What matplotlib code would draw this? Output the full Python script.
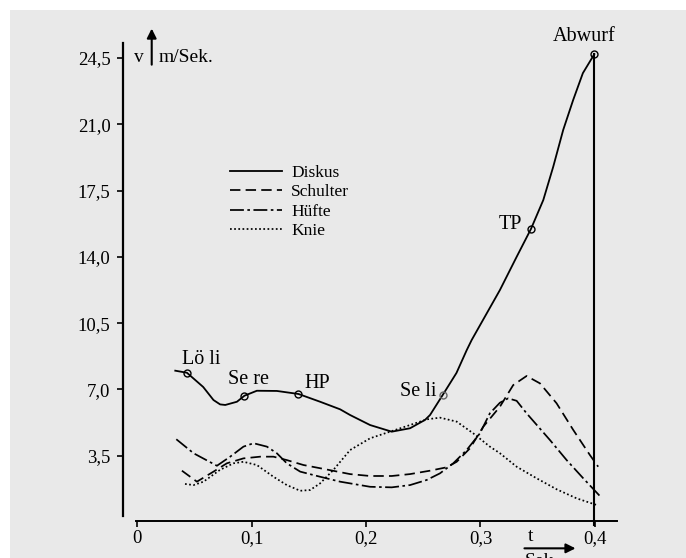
import numpy as np
import matplotlib
matplotlib.use('Agg')
import matplotlib.pyplot as plt
from matplotlib.patches import Rectangle

# Zeit in Sek., Geschwindigkeit in m/Sek.
diskus_t = [0.0332, 0.0434, 0.0576, 0.0666, 0.0724, 0.0769, 0.0871, 0.0937, 0.1045, 0.1220,
            0.1409, 0.1598, 0.1773, 0.1860, 0.2035, 0.2224, 0.2384, 0.2515, 0.2559, 0.2670,
            0.2790, 0.2880, 0.2923, 0.3170, 0.3316, 0.3441, 0.3549, 0.3636, 0.3723, 0.3810,
            0.3895, 0.3995]
diskus_v = [7.99, 7.88, 7.13, 6.44, 6.21, 6.18, 6.35, 6.67, 6.93, 6.92,
            6.76, 6.35, 5.95, 5.65, 5.12, 4.77, 4.95, 5.39, 5.65, 6.71,
            7.87, 9.08, 9.61, 12.25, 14.00, 15.47, 17.00, 18.76, 20.70, 22.28,
            23.70, 24.70]

schulter_t = [0.0390, 0.0521, 0.0666, 0.0783, 0.0928, 0.1074, 0.1190, 0.1307, 0.1452, 0.1598,
              0.1860, 0.2035, 0.2224, 0.2384, 0.2559, 0.2705, 0.2792, 0.2908, 0.3024, 0.3170,
              0.3286, 0.3403, 0.3520, 0.3665, 0.3811, 0.3956, 0.4029]
schulter_v = [2.71, 2.13, 2.66, 3.10, 3.36, 3.45, 3.45, 3.27, 3.01, 2.84,
              2.53, 2.43, 2.43, 2.53, 2.71, 2.89, 3.18, 3.89, 5.03, 6.09,
              7.23, 7.71, 7.32, 6.27, 4.86, 3.54, 2.92]

huefte_t = [0.0341, 0.0492, 0.0696, 0.0812, 0.0928, 0.1016, 0.1133, 0.1220, 0.1307, 0.1424,
            0.1598, 0.1773, 0.2035, 0.2224, 0.2384, 0.2530, 0.2646, 0.2762, 0.2879, 0.2995,
            0.3082, 0.3170, 0.3242, 0.3316, 0.3403, 0.3607, 0.3753, 0.3898, 0.4044]
huefte_v = [4.37, 3.63, 2.97, 3.45, 3.98, 4.16, 3.98, 3.63, 3.10, 2.66,
            2.39, 2.13, 1.86, 1.83, 1.95, 2.22, 2.57, 3.10, 3.80, 4.68,
            5.74, 6.30, 6.53, 6.40, 5.74, 4.33, 3.27, 2.31, 1.37]

knie_t = [0.0417, 0.0492, 0.0579, 0.0722, 0.0841, 0.0928, 0.1045, 0.1190, 0.1307, 0.1424,
          0.1511, 0.1598, 0.1714, 0.1860, 0.2035, 0.2224, 0.2384, 0.2530, 0.2646, 0.2792,
          0.2937, 0.3082, 0.3170, 0.3316, 0.3490, 0.3665, 0.3840, 0.4015]
knie_v = [2.01, 1.95, 2.13, 2.75, 3.10, 3.18, 3.01, 2.39, 1.95, 1.65,
          1.69, 2.04, 2.75, 3.80, 4.42, 4.80, 5.12, 5.42, 5.51, 5.30,
          4.68, 3.98, 3.63, 2.92, 2.31, 1.73, 1.25, 0.90]

punkt_namen = ['Lö li', 'Se re', 'HP', 'Se li', 'TP', 'Abwurf']
punkt_t = [0.0434, 0.0937, 0.1409, 0.2670, 0.3441, 0.3995]
punkt_v = [7.88, 6.67, 6.76, 6.71, 15.47, 24.70]

xticks = [0, 0.1, 0.2, 0.3, 0.4]
xtick_labels = ['0', '0,1', '0,2', '0,3', '0,4']
yticks = [3.5, 7.0, 10.5, 14.0, 17.5, 21.0, 24.5]
ytick_labels = ['3,5', '7,0', '10,5', '14,0', '17,5', '21,0', '24,5']

plt.rcParams['font.family'] = ['Liberation Serif', 'DejaVu Serif']

fig = plt.figure(figsize=(6.86, 5.58), dpi=100, facecolor='white')
fig.patches.append(Rectangle((10 / 686, 0), 1, 548 / 558, transform=fig.transFigure,
                             facecolor='#e9e9e9', edgecolor='none', zorder=-10))
ax = fig.add_axes([123 / 686, 37.5 / 558, 506.2 / 686, 500.4 / 558])
ax.set_facecolor('none')
ax.set_xlim(-0.0125, 0.43)
ax.set_ylim(0.08, 26.5)

ax.plot(diskus_t, diskus_v, color='black', lw=1.3, ls='-', label='Diskus')
ax.plot(schulter_t, schulter_v, color='black', lw=1.25, ls=(0, (6, 3)), label='Schulter')
ax.plot(huefte_t, huefte_v, color='black', lw=1.25, ls=(0, (8, 2, 1.5, 2)), label='Hüfte')
ax.plot(knie_t, knie_v, color='black', lw=1.25, ls=(0, (1, 1.4)), label='Knie')

# Abwurf-Linie
ax.plot([punkt_t[-1], punkt_t[-1]], [punkt_v[-1], -0.15], color='black', lw=1.5, clip_on=False)

for i, name in enumerate(punkt_namen):
    ec = '#666666' if name == 'Se li' else 'black'
    ax.plot(punkt_t[i], punkt_v[i], 'o', ms=5, mfc='none', mec=ec, mew=1.0, zorder=5)

offsets = {'Lö li': (0.0121, 0.71), 'Se re': (0.0033, 0.86), 'HP': (0.0161, 0.56),
           'Se li': (-0.0213, 0.17), 'TP': (-0.0184, 0.25), 'Abwurf': (-0.0085, 0.95)}
for i, name in enumerate(punkt_namen):
    dx, dy = offsets[name]
    ax.text(punkt_t[i] + dx, punkt_v[i] + dy, name, fontsize=14.5, ha='center', va='center')

for s in ['top', 'right']:
    ax.spines[s].set_visible(False)
ax.spines['left'].set_bounds(0.3, 25.3)
ax.spines['left'].set_linewidth(1.6)
ax.spines['bottom'].set_bounds(-0.001, 0.419)
ax.spines['bottom'].set_linewidth(1.4)

ax.set_xticks(xticks)
ax.set_xticklabels(xtick_labels)
ax.set_yticks(yticks)
ax.set_yticklabels(ytick_labels)
ax.tick_params(axis='y', direction='out', length=4, width=1.2, pad=5, labelsize=13.5)
ax.tick_params(axis='x', direction='out', length=4, width=1.2, pad=3, labelsize=13.5)

# Achsbeschriftungen mit Pfeilen
ax.annotate('', xy=(0.0126, 26.2), xytext=(0.0126, 24.0),
            arrowprops=dict(arrowstyle='-|>', lw=1.5, color='black', mutation_scale=14))
ax.text(0.0015, 24.55, 'v', fontsize=14, ha='center', va='center')
ax.text(0.0184, 24.55, 'm/Sek.', fontsize=14, ha='left', va='center')

ax.text(0.3438, -0.78, 't', fontsize=14, ha='center', va='center', clip_on=False)
ax.annotate('', xy=(0.3855, -1.39), xytext=(0.336, -1.39), xycoords='data',
            arrowprops=dict(arrowstyle='-|>', lw=1.5, color='black', mutation_scale=14),
            annotation_clip=False)
ax.text(0.354, -1.62, 'Sek.', fontsize=14, ha='center', va='top', clip_on=False)

leg = ax.legend(loc='upper left', bbox_to_anchor=(0.2114, 0.710), frameon=False,
                fontsize=12.5, handlelength=2.98, handletextpad=0.54, labelspacing=0.17,
                borderpad=0, borderaxespad=0)

fig.savefig('out.png', dpi=100, facecolor='white')
